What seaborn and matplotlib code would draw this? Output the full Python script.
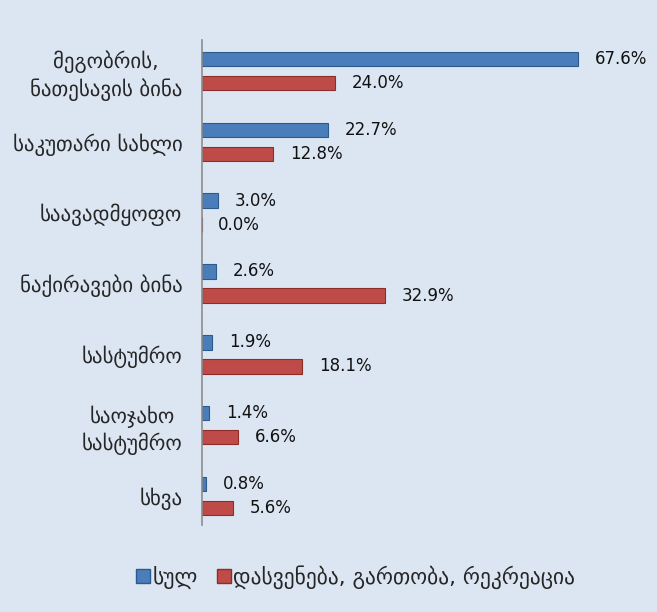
import matplotlib
matplotlib.use("Agg")
import matplotlib.pyplot as plt
import seaborn as sns
import pandas as pd
from matplotlib.lines import Line2D

categories = ["მეგობრის,\nნათესავის ბინა", "საკუთარი სახლი", "საავადმყოფო",
              "ნაქირავები ბინა", "სასტუმრო", "საოჯახო\nსასტუმრო", "სხვა"]
series_names = ["სულ", "დასვენება, გართობა, რეკრეაცია"]
total = [67.6, 22.7, 3.0, 2.6, 1.9, 1.4, 0.8]
leisure = [24.0, 12.8, 0.0, 32.9, 18.1, 6.6, 5.6]
colors = ["#4A7EBB", "#BE4B48"]
edge_colors = ["#2C5A8C", "#8C2D2A"]

df = pd.DataFrame({
    "category": categories * 2,
    "series": [series_names[0]] * len(categories) + [series_names[1]] * len(categories),
    "value": total + leisure,
})

sns.set_style("white")
plt.rcParams["font.family"] = ["DejaVu Sans"]

bg = "#DCE6F2"
fig = plt.figure(figsize=(6.57, 6.12), dpi=100, facecolor=bg)
ax = fig.add_axes([0.307, 0.142, 0.661, 0.793])
ax.set_facecolor(bg)

sns.barplot(data=df, y="category", x="value", hue="series", orient="h",
            palette=colors, saturation=1, width=0.68, gap=0.4, ax=ax, legend=False,
            order=categories, hue_order=series_names)

for i, cont in enumerate(ax.containers):
    for p in cont:
        p.set_edgecolor(edge_colors[i])
        p.set_linewidth(0.8)
    ax.bar_label(cont, labels=[f"{v:.1f}%" for v in cont.datavalues],
                 padding=12, fontsize=12, color="#111111")

ax.set_xlim(0, 78)
ax.set_ylim(6.41, -0.44)
ax.set_xlabel("")
ax.set_ylabel("")
ax.set_xticks([])
ax.tick_params(axis="y", length=0, pad=14, labelsize=15)
for s in ["top", "right", "bottom"]:
    ax.spines[s].set_visible(False)
ax.spines["left"].set_color("#8C8C8C")
ax.spines["left"].set_linewidth(1.2)
for lab in ax.get_yticklabels():
    lab.set_horizontalalignment("right")
    lab.set_multialignment("center")
    lab.set_linespacing(1.3)

handles = [Line2D([0], [0], marker="s", linestyle="", markersize=10,
                  markerfacecolor=colors[i], markeredgecolor=edge_colors[i])
           for i in range(2)]
fig.legend(handles, series_names, loc="center", bbox_to_anchor=(0.54, 0.057),
           ncol=2, frameon=False, fontsize=15.5, handletextpad=0.05,
           columnspacing=0.8, handlelength=0.8)

fig.savefig("out.png", dpi=100, facecolor=bg)
